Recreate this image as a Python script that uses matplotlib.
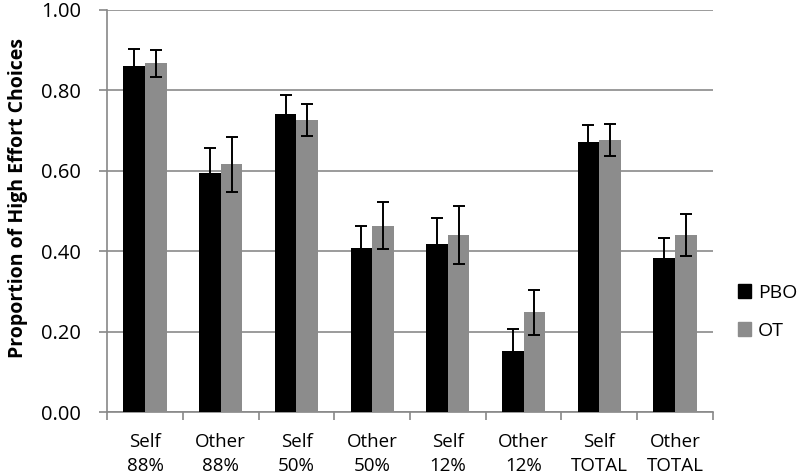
import numpy as np
import matplotlib
matplotlib.use('Agg')
import matplotlib.pyplot as plt
from matplotlib.patches import Patch

plt.rcParams['font.family'] = ['Open Sans', 'DejaVu Sans']

categories = ['Self\n88%', 'Other\n88%', 'Self\n50%', 'Other\n50%',
              'Self\n12%', 'Other\n12%', 'Self\nTOTAL', 'Other\nTOTAL']
pbo = [0.861, 0.594, 0.741, 0.408, 0.417, 0.153, 0.673, 0.383]
pbo_err = [0.043, 0.063, 0.048, 0.055, 0.067, 0.053, 0.041, 0.049]
ot = [0.867, 0.616, 0.726, 0.464, 0.441, 0.248, 0.677, 0.441]
ot_err = [0.033, 0.068, 0.040, 0.058, 0.072, 0.055, 0.040, 0.052]
yticks = [0.0, 0.2, 0.4, 0.6, 0.8, 1.0]

fig = plt.figure(figsize=(8, 4.76), dpi=100)
ax = fig.add_axes([0.134, 0.134, 0.757, 0.845])

x = np.arange(len(categories))
w = 0.285
ebar = dict(ecolor='black', elinewidth=1.4, capsize=4, capthick=1.4)
ax.bar(x - w / 2, pbo, w, color='black', yerr=pbo_err, error_kw=ebar, zorder=3)
ax.bar(x + w / 2, ot, w, color='#8c8c8c', yerr=ot_err, error_kw=ebar, zorder=3)

ax.set_xlim(-0.5, len(categories) - 0.5)
ax.set_ylim(0, 1.0)
ax.set_yticks(yticks)
ax.set_yticklabels([f'{v:.2f}' for v in yticks], fontsize=14.5)
ax.yaxis.grid(True, color='#8a8a8a', linewidth=1.2, zorder=0)
ax.set_axisbelow(True)

ax.set_xticks(x)
ax.set_xticklabels(categories, fontsize=13.5, linespacing=1.45)
ax.set_xticks(np.arange(-0.5, len(categories)), minor=True)
ax.tick_params(axis='x', which='major', length=0, pad=15)
ax.tick_params(axis='x', which='minor', length=6, color='#888888', width=1.2)
ax.tick_params(axis='y', length=6, color='#888888', width=1.2, pad=13)

for s in ['top', 'right']:
    ax.spines[s].set_visible(False)
for s in ['left', 'bottom']:
    ax.spines[s].set_color('#888888')
    ax.spines[s].set_linewidth(1.2)

ax.set_ylabel('Proportion of High Effort Choices', fontsize=14, fontweight='bold')
ax.yaxis.set_label_coords(-0.13, 0.532)

handles = [Patch(color='black', label='PBO'), Patch(color='#8c8c8c', label='OT')]
fig.legend(handles=handles, loc='center left', bbox_to_anchor=(0.9, 0.345),
           frameon=False, fontsize=14, handlelength=0.7, handleheight=0.7,
           handletextpad=0.35, labelspacing=1.0)

fig.savefig('out.png', dpi=100)
